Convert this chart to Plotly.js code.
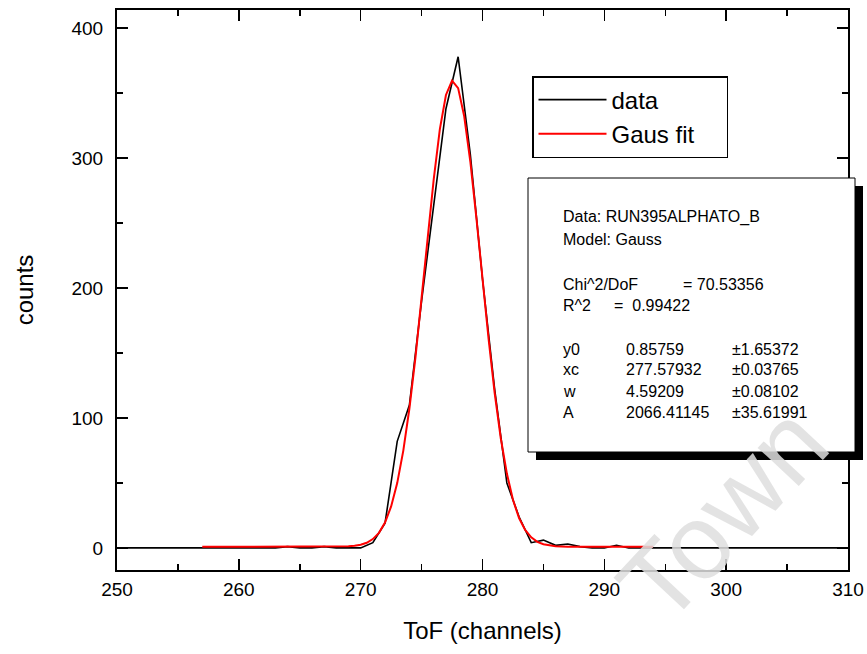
<!DOCTYPE html>
<html>
<head>
<meta charset="utf-8">
<script src="https://cdn.plot.ly/plotly-3.0.1.min.js"></script>
<style>html,body{margin:0;padding:0;background:#fff;}#chart{width:867px;height:654px;}</style>
</head>
<body>
<div id="chart"></div>
<script>
// Measured spectrum (ToF channel vs counts)
var dataX = [250,251,252,253,254,255,256,257,258,259,260,261,262,263,264,265,266,267,268,269,270,
             271,272,273,274,275,276,277,278,279,280,281,282,283,284,285,286,287,288,289,290,291,292,
             293,294,295,296,297,298,299,300,301,302,303,304,305,306,307,308,309,310];
var dataY = [0,0,0,0,0,0,0,0,0,0,0,0,0,0,1,0,0,1,0,0,0,
             4,19,82,110,190,265,338,378,303,207,122,50,24,4,6,2,3,1,0,0,2,0,
             0,0,0,0,0,0,0,0,0,0,0,0,0,0,0,0,0,0];

// Gaussian fit curve
var fitX = [257,260,263,266,267,268,268.5,269,269.5,270,270.5,271,271.5,272,272.5,273,273.5,274,274.5,
            275,275.5,276,276.5,277,277.5,278,278.5,279,279.5,280,280.5,281,281.5,282,282.5,283,283.5,
            284,284.5,285,285.5,286,287,288,290,294];
var fitY = [0.86,0.86,0.86,0.86,0.87,0.92,1.0,1.19,1.6,2.4,3.95,6.8,11.6,19.6,31.9,49.9,74.9,107.3,146.9,
            191.8,239,284.1,322.3,348.6,359.6,353.9,332.2,297.4,253.9,206.9,160.8,119.2,84.4,57.2,37,23,13.8,
            8.1,4.7,2.8,1.8,1.3,0.94,0.87,0.86,0.86];

var seriesNames = ["data", "Gaus fit"];
var xTitle = "ToF (channels)";
var yTitle = "counts";

// Fit report text
var reportHead = ["Data: RUN395ALPHATO_B", "Model: Gauss"];
var chiLabel = "Chi^2/DoF", chiValue = "= 70.53356";
var r2Label = "R^2", r2Value = "=\u00a0\u00a00.99422";
var paramNames = ["y0", "xc", "w", "A"];
var paramValues = ["0.85759", "277.57932", "4.59209", "2066.41145"];
var paramErrors = ["\u00b11.65372", "\u00b10.03765", "\u00b10.08102", "\u00b135.61991"];
var watermark = "Town";

var FONT = "Arial, 'Liberation Sans', sans-serif";
var PAD = "\u00a0\u00a0\u00a0\u00a0";

var traces = [
  {x: dataX, y: dataY, type: 'scatter', mode: 'lines', name: seriesNames[0] + PAD,
   line: {color: '#000000', width: 1.6}},
  {x: fitX, y: fitY, type: 'scatter', mode: 'lines', name: seriesNames[1] + PAD,
   line: {color: '#ff0000', width: 2}}
];

// pixel helpers for paper placement (plot area: x 117..848, y 10..570)
function px(v){ return (v - 117) / 731; }
function py(v){ return (570 - v) / 560; }

var ann = [];
function txt(x, y, t){
  ann.push({xref:'paper', yref:'paper', x: px(x), y: py(y), text: t, showarrow:false,
            xanchor:'left', yanchor:'middle', font:{family:FONT, size:16, color:'#000'}});
}
txt(561, 217, reportHead[0]);
txt(561, 239, reportHead[1]);
txt(561, 284, chiLabel); txt(681, 284, chiValue);
txt(561, 305, r2Label); txt(612, 305, r2Value);
var rowsY = [349, 370, 391, 412];
for (var i = 0; i < paramNames.length; i++) {
  txt(561, rowsY[i], paramNames[i]);
  txt(624, rowsY[i], paramValues[i]);
  txt(730, rowsY[i], paramErrors[i]);
}
ann.push({xref:'paper', yref:'paper', x: px(722), y: py(514), text: watermark, showarrow:false,
          xanchor:'center', yanchor:'middle', textangle: -47,
          font:{family:FONT, size:106, color:'rgba(222,222,222,0.85)'}});

var shapes = [
  {type:'rect', xref:'paper', yref:'paper', x0: px(536), x1: px(863), y0: py(460), y1: py(186),
   fillcolor:'#000', line:{width:0}, layer:'above'},
  {type:'rect', xref:'paper', yref:'paper', x0: px(528), x1: px(855), y0: py(452), y1: py(178),
   fillcolor:'#fff', line:{color:'#000', width:1}, layer:'above'}
];

var axisCommon = {
  showgrid:false, zeroline:false, showline:true, linecolor:'#000', linewidth:2,
  mirror:'ticks', ticks:'inside', ticklen:11, tickwidth:1.5, tickcolor:'#000',
  tickfont:{family:FONT, size:19, color:'#000'}
};

var layout = {
  width: 867, height: 654,
  margin: {l:117, r:19, t:10, b:84, pad:0},
  paper_bgcolor:'#fff', plot_bgcolor:'#fff',
  font:{family:FONT, color:'#000'},
  xaxis: Object.assign({}, axisCommon, {
    range:[250,310], dtick:10, tick0:250, ticklabelstandoff: 1,
    minor:{dtick:5, ticks:'inside', ticklen:6, tickwidth:1.5, tickcolor:'#000'},
    title:{text:xTitle, font:{family:FONT, size:24, color:'#000'}, standoff: 23}
  }),
  yaxis: Object.assign({}, axisCommon, {
    range:[-17,414], dtick:100, tick0:0, ticklabelstandoff: 8,
    minor:{dtick:50, ticks:'inside', ticklen:6, tickwidth:1.5, tickcolor:'#000'},
    title:{text:yTitle, font:{family:FONT, size:24, color:'#000'}, standoff: 31}
  }),
  showlegend: true,
  legend: {x: px(532), y: py(76), xanchor:'left', yanchor:'top',
           bgcolor:'#fff', bordercolor:'#000', borderwidth:1.5,
           font:{family:FONT, size:24, color:'#000'}, itemwidth: 68, tracegroupgap: 0},
  shapes: shapes,
  annotations: ann
};

Plotly.newPlot('chart', traces, layout, {displayModeBar:false, staticPlot:true});
</script>
</body>
</html>
